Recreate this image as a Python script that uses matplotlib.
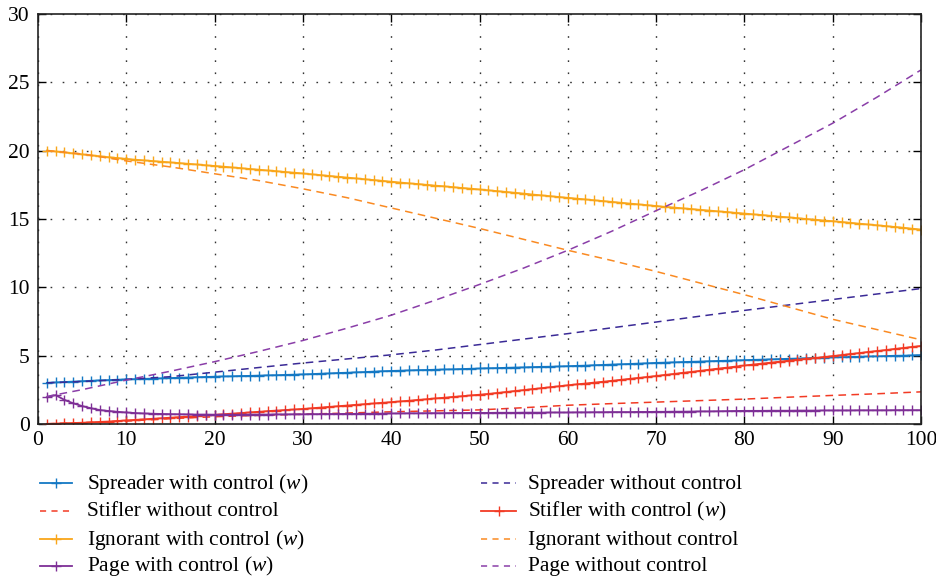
import numpy as np
import matplotlib
matplotlib.use('Agg')
import matplotlib.pyplot as plt
from matplotlib.lines import Line2D

plt.rcParams['font.family'] = 'Liberation Serif'
plt.rcParams['mathtext.fontset'] = 'custom'
plt.rcParams['mathtext.rm'] = 'Liberation Serif'
plt.rcParams['mathtext.it'] = 'Liberation Serif:italic'

# time steps with markers (1..100)
t = list(range(1, 101))
# coarser time steps for the dashed "without control" curves
t_nc = [1, 5, 10, 15, 20, 25, 30, 35, 40, 45, 50, 55, 60, 65, 70, 75, 80, 85, 90, 95, 100]

spreader_w = [3.00, 3.03, 3.06, 3.09, 3.12, 3.15, 3.18, 3.20, 3.23, 3.25,
              3.27, 3.29, 3.31, 3.33, 3.35, 3.37, 3.39, 3.41, 3.43, 3.45,
              3.47, 3.48, 3.50, 3.51, 3.53, 3.55, 3.56, 3.58, 3.60, 3.62,
              3.64, 3.67, 3.69, 3.72, 3.74, 3.77, 3.79, 3.82, 3.85, 3.87,
              3.89, 3.91, 3.93, 3.94, 3.96, 3.98, 3.99, 4.01, 4.03, 4.05,
              4.07, 4.08, 4.10, 4.12, 4.13, 4.15, 4.17, 4.18, 4.20, 4.22,
              4.24, 4.26, 4.29, 4.31, 4.34, 4.36, 4.38, 4.41, 4.43, 4.46,
              4.48, 4.50, 4.52, 4.54, 4.56, 4.58, 4.60, 4.62, 4.64, 4.66,
              4.68, 4.70, 4.72, 4.74, 4.76, 4.78, 4.80, 4.82, 4.84, 4.86,
              4.88, 4.89, 4.91, 4.93, 4.94, 4.96, 4.98, 4.99, 5.01, 5.03]

stifler_w = [0.00, 0.02, 0.04, 0.06, 0.08, 0.11, 0.14, 0.17, 0.21, 0.25,
             0.29, 0.33, 0.37, 0.41, 0.45, 0.49, 0.53, 0.57, 0.62, 0.66,
             0.70, 0.75, 0.79, 0.84, 0.88, 0.93, 0.97, 1.01, 1.05, 1.09,
             1.14, 1.19, 1.24, 1.29, 1.34, 1.39, 1.44, 1.49, 1.54, 1.59,
             1.64, 1.69, 1.75, 1.80, 1.86, 1.91, 1.97, 2.02, 2.08, 2.13,
             2.19, 2.26, 2.33, 2.40, 2.47, 2.54, 2.61, 2.68, 2.75, 2.82,
             2.89, 2.95, 3.02, 3.08, 3.15, 3.22, 3.29, 3.36, 3.43, 3.50,
             3.58, 3.65, 3.73, 3.80, 3.88, 3.96, 4.04, 4.11, 4.19, 4.27,
             4.34, 4.41, 4.48, 4.55, 4.62, 4.69, 4.76, 4.82, 4.89, 4.96,
             5.03, 5.11, 5.18, 5.26, 5.33, 5.40, 5.48, 5.55, 5.63, 5.70]

ignorant_w = [20.00, 19.93, 19.86, 19.79, 19.72, 19.65, 19.58, 19.51, 19.45, 19.39,
              19.33, 19.28, 19.23, 19.18, 19.13, 19.08, 19.03, 18.98, 18.92, 18.87,
              18.82, 18.76, 18.71, 18.65, 18.60, 18.54, 18.49, 18.43, 18.38, 18.32,
              18.26, 18.20, 18.14, 18.08, 18.02, 17.96, 17.90, 17.84, 17.78, 17.72,
              17.66, 17.60, 17.55, 17.49, 17.43, 17.38, 17.32, 17.26, 17.21, 17.15,
              17.09, 17.03, 16.97, 16.91, 16.85, 16.78, 16.72, 16.66, 16.60, 16.54,
              16.48, 16.42, 16.36, 16.30, 16.24, 16.18, 16.12, 16.06, 16.00, 15.94,
              15.88, 15.83, 15.77, 15.72, 15.66, 15.61, 15.55, 15.50, 15.44, 15.39,
              15.33, 15.28, 15.22, 15.16, 15.11, 15.05, 14.99, 14.94, 14.88, 14.83,
              14.77, 14.71, 14.65, 14.59, 14.53, 14.47, 14.41, 14.35, 14.28, 14.22]

page_w = [1.95, 2.10, 1.75, 1.50, 1.30, 1.14, 1.01, 0.94, 0.88, 0.83,
          0.79, 0.76, 0.74, 0.72, 0.71, 0.70, 0.69, 0.68, 0.68, 0.67,
          0.67, 0.67, 0.67, 0.68, 0.68, 0.68, 0.69, 0.69, 0.70, 0.70,
          0.71, 0.71, 0.72, 0.72, 0.73, 0.73, 0.74, 0.74, 0.75, 0.76,
          0.76, 0.77, 0.77, 0.78, 0.78, 0.78, 0.79, 0.79, 0.80, 0.80,
          0.80, 0.81, 0.81, 0.81, 0.82, 0.82, 0.82, 0.83, 0.83, 0.83,
          0.84, 0.84, 0.85, 0.85, 0.86, 0.86, 0.86, 0.87, 0.87, 0.88,
          0.88, 0.89, 0.89, 0.90, 0.91, 0.91, 0.92, 0.93, 0.94, 0.95,
          0.95, 0.95, 0.96, 0.96, 0.96, 0.97, 0.97, 0.97, 0.98, 0.98,
          0.98, 0.98, 0.99, 0.99, 0.99, 0.99, 1.00, 1.00, 1.00, 1.00]

spreader_nc = [3.0, 3.1, 3.25, 3.45, 3.78, 4.12, 4.45, 4.75, 5.05, 5.4, 5.8,
               6.2, 6.6, 7.03, 7.45, 7.88, 8.3, 8.7, 9.1, 9.5, 9.9]
stifler_nc = [0.0, 0.08, 0.2, 0.38, 0.52, 0.62, 0.7, 0.79, 0.88, 0.95, 1.02,
              1.18, 1.36, 1.48, 1.59, 1.7, 1.81, 1.95, 2.08, 2.2, 2.34]
ignorant_nc = [20.0, 19.75, 19.24, 18.8, 18.3, 17.8, 17.2, 16.55, 15.8, 15.05, 14.3,
               13.5, 12.7, 11.95, 11.15, 10.3, 9.45, 8.55, 7.65, 6.9, 6.15]
page_nc = [2.0, 2.5, 3.2, 3.85, 4.55, 5.3, 6.1, 7.0, 7.95, 9.05, 10.2,
           11.4, 12.7, 14.1, 15.6, 17.05, 18.6, 20.3, 22.0, 23.9, 25.9]

W, H = 936, 579
fig = plt.figure(figsize=(W / 100, H / 100), dpi=100)
ax = fig.add_axes([0.0406, 0.268, 0.9434, 0.708])

dash = (0, (5, 3.5))
mk = dict(marker='+', markersize=7, markeredgewidth=1.0, linewidth=1.3)

series = [
    # label, x, y, color, with markers?
    ('Spreader with control ($\\mathit{w}$)', t, spreader_w, '#1478c4', True),
    ('Spreader without control', t_nc, spreader_nc, '#3a2a96', False),
    ('Stifler without control', t_nc, stifler_nc, '#f23a24', False),
    ('Stifler with control ($\\mathit{w}$)', t, stifler_w, '#f23a24', True),
    ('Ignorant with control ($\\mathit{w}$)', t, ignorant_w, '#f9a61a', True),
    ('Ignorant without control', t_nc, ignorant_nc, '#fa8a22', False),
    ('Page with control ($\\mathit{w}$)', t, page_w, '#7e2f96', True),
    ('Page without control', t_nc, page_nc, '#8a3ea8', False),
]

for lab, x, y, c, m in series:
    if m:
        ax.plot(x, y, color=c, **mk)
    else:
        ax.plot(x, y, color=c, linestyle=dash, linewidth=1.1)

ax.set_xlim(0, 100)
ax.set_ylim(0, 30)
ax.set_xticks(range(0, 101, 10))
ax.set_yticks(range(0, 31, 5))
ax.grid(True, color='#333333', linestyle=(0, (1.2, 7.5)), linewidth=1.0)
ax.tick_params(direction='in', top=True, right=True, length=6, width=1,
               labelsize=15.5)
ax.tick_params(axis='x', pad=5)
ax.tick_params(axis='y', pad=6)
for s in ax.spines.values():
    s.set_linewidth(1.2)
    s.set_color('#222222')

# legend drawn by hand, two columns x four rows
row_y = [483, 511, 539, 566]
col_x = [(40, 72, 87), (481, 516, 528)]
for i, (lab, x, y, c, m) in enumerate(series):
    row, col = i // 2, i % 2
    x0, x1, xt = col_x[col]
    yy = 1 - row_y[row] / H
    if m:
        fig.add_artist(Line2D([x0 / W, x1 / W], [yy, yy], color=c, linewidth=1.3))
        fig.add_artist(Line2D([(x0 + x1) / 2 / W], [yy], color=c, marker='+',
                              markersize=7, markeredgewidth=1.0))
    else:
        fig.add_artist(Line2D([x0 / W, x1 / W], [yy, yy], color=c, linewidth=1.1,
                              linestyle=(0, (4, 3.5))))
    fig.text(xt / W, yy - 5.5 / H, lab, fontsize=15.5, ha='left', va='baseline')

fig.savefig('out.png', dpi=100)
